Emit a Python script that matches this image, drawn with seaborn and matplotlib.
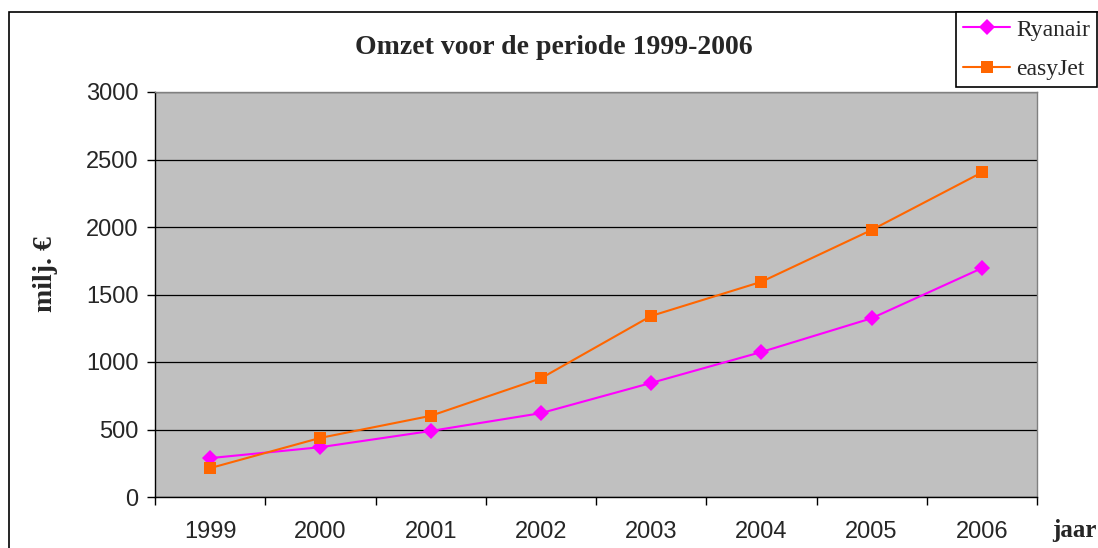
import matplotlib
matplotlib.use("Agg")
import matplotlib.pyplot as plt
import seaborn as sns
import pandas as pd
from matplotlib.patches import Rectangle
from matplotlib.lines import Line2D

years = ["1999", "2000", "2001", "2002", "2003", "2004", "2005", "2006"]
ryanair = [288, 369, 489, 621, 845, 1074, 1324, 1695]
easyjet = [214, 438, 601, 879, 1341, 1594, 1978, 2404]
series_names = ["Ryanair", "easyJet"]
colors = {"Ryanair": "#FF00FF", "easyJet": "#FF6600"}
markers = {"Ryanair": "D", "easyJet": "s"}
y_ticks = [0, 500, 1000, 1500, 2000, 2500, 3000]

df = pd.DataFrame({
    "pos": list(range(len(years))) * 2,
    "value": ryanair + easyjet,
    "airline": [series_names[0]] * len(years) + [series_names[1]] * len(years),
})

sns.set_style("white")
plt.rcParams["font.family"] = ["Liberation Sans", "DejaVu Sans"]
serif = ["Liberation Serif", "DejaVu Serif"]

fig = plt.figure(figsize=(10.98, 5.48), dpi=100)
ax = fig.add_axes([155/1098, 1-497/548, (1037-155)/1098, (497-92)/548])
ax.set_facecolor("#C0C0C0")

sns.lineplot(data=df, x="pos", y="value", hue="airline", style="airline",
             palette=colors, markers=markers, dashes=False, ax=ax,
             linewidth=1.5, markersize=8, markeredgewidth=0, legend=False)

ax.set_xlim(-0.5, len(years) - 0.5)
ax.set_ylim(0, 3000)
ax.set_yticks(y_ticks)
ax.set_yticklabels([str(t) for t in y_ticks], fontsize=17)
ax.yaxis.grid(True, color="black", linewidth=0.9)
ax.set_axisbelow(True)

# category labels centred, ticks at boundaries
ax.set_xticks([i - 0.5 for i in range(len(years) + 1)])
ax.set_xticklabels([])
ax.set_xticks(list(range(len(years))), minor=True)
ax.set_xticklabels(years, minor=True, fontsize=17)
ax.tick_params(axis="x", which="minor", length=0, pad=17)
ax.tick_params(axis="x", which="major", length=6, width=1, color="black", direction="out")
ax.tick_params(axis="y", length=6, width=1, color="black", direction="out", pad=6)
ax.tick_params(bottom=True, left=True)

for side in ["top", "right"]:
    ax.spines[side].set_color("#808080")
    ax.spines[side].set_linewidth(1)
for side in ["left", "bottom"]:
    ax.spines[side].set_color("black")
    ax.spines[side].set_linewidth(1)

ax.set_xlabel("")
ax.set_ylabel("")

fig.text(554/1098, 1-47/548, "Omzet voor de periode 1999-2006", ha="center", va="center",
         fontsize=20, fontweight="bold", family=serif)
fig.text(45/1098, 1-274/548, "milj. €", ha="center", va="center", rotation=90,
         fontsize=20, fontweight="bold", family=serif)
fig.text(1074/1098, 1-531/548, "jaar", ha="center", va="center",
         fontsize=18, fontweight="bold", family=serif)

# outer chart frame
fig.patches.append(Rectangle((9/1098, -0.1), 1.2, 1 - 12/548 + 0.1, transform=fig.transFigure,
                             fill=False, edgecolor="black", linewidth=1.2, zorder=0))

handles = [Line2D([0], [0], color=colors[n], marker=markers[n], markersize=8,
                  markeredgewidth=0, linewidth=1.5) for n in series_names]
leg = fig.legend(handles, series_names, loc="upper right",
                 bbox_to_anchor=(1097/1098, 1 - 12/548), bbox_transform=fig.transFigure,
                 frameon=True, fancybox=False, edgecolor="black", framealpha=1,
                 prop={"family": serif, "size": 17},
                 handlelength=2.0, borderpad=0.3, labelspacing=0.75, handletextpad=0.25,
                 borderaxespad=0)
leg.get_frame().set_linewidth(1.2)

fig.savefig("out.png", dpi=100)
